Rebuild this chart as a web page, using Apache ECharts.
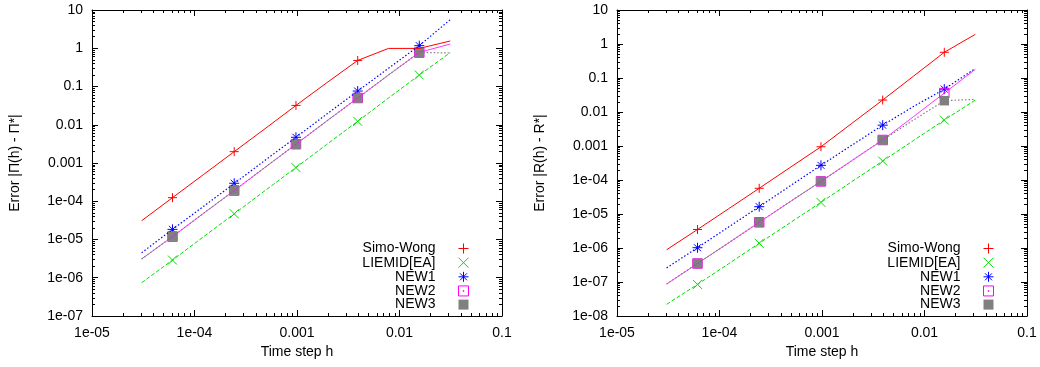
<!DOCTYPE html>
<html>
<head>
<meta charset="utf-8">
<script src="https://cdn.jsdelivr.net/npm/echarts@6/dist/echarts.min.js"></script>
<style>
html,body{margin:0;padding:0;background:#fff;}
#chart{width:1040px;height:367px;}
</style>
</head>
<body>
<div id="chart"></div>
<script>
// ---- data ----
const names = ['Simo-Wong', 'LIEMID[EA]', 'NEW1', 'NEW2', 'NEW3'];
// step sizes used for the curves and for the marked points
const hLine = [3.05e-5, 6.1e-5, 1.22e-4, 2.44e-4, 4.88e-4, 9.77e-4, 1.95e-3, 3.91e-3, 7.81e-3, 1.56e-2, 3.13e-2];
const hPts = [6.1e-5, 2.44e-4, 9.77e-4, 3.91e-3, 1.56e-2];

// left panel: |Pi(h) - Pi*|
const piLine = {
  'Simo-Wong': [3.1e-5, 1.24e-4, 4.95e-4, 1.98e-3, 7.9e-3, 0.032, 0.125, 0.48, 0.99, 0.99, 1.55],
  'LIEMID[EA]': [7.4e-7, 2.9e-6, 1.17e-5, 4.7e-5, 1.9e-4, 7.6e-4, 3.05e-3, 0.0123, 0.05, 0.2, 0.77],
  'NEW1': [4.5e-6, 1.84e-5, 7.3e-5, 2.9e-4, 1.18e-3, 4.7e-3, 1.9e-2, 7.6e-2, 0.3, 1.17, 5.6],
  'NEW2': [3.1e-6, 1.19e-5, 4.8e-5, 1.9e-4, 7.7e-4, 3.1e-3, 1.25e-2, 0.05, 0.2, 0.78, 1.29],
  'NEW3': [3.1e-6, 1.19e-5, 4.8e-5, 1.9e-4, 7.7e-4, 3.1e-3, 1.25e-2, 0.05, 0.2, 0.78, 0.75]
};
const piPts = {
  'Simo-Wong': [1.24e-4, 1.98e-3, 0.032, 0.48, 1.0],
  'LIEMID[EA]': [2.9e-6, 4.7e-5, 7.6e-4, 0.0123, 0.2],
  'NEW1': [1.84e-5, 2.95e-4, 4.7e-3, 0.076, 1.17],
  'NEW2': [1.19e-5, 1.9e-4, 3.1e-3, 0.05, 0.77],
  'NEW3': [1.22e-5, 1.95e-4, 3.1e-3, 0.05, 0.78]
};

// right panel: |R(h) - R*|
const rLine = {
  'Simo-Wong': [8.9e-7, 3.5e-6, 1.41e-5, 5.7e-5, 2.33e-4, 9.5e-4, 4.6e-3, 0.0225, 0.113, 0.57, 1.92],
  'LIEMID[EA]': [2.2e-8, 8.5e-8, 3.4e-7, 1.38e-6, 5.5e-6, 2.2e-5, 8.9e-5, 3.6e-4, 1.45e-3, 5.8e-3, 0.0225],
  'NEW1': [2.6e-7, 1.02e-6, 4.1e-6, 1.64e-5, 6.7e-5, 2.7e-4, 1.05e-3, 4.1e-3, 0.0145, 0.047, 0.19],
  'NEW2': [8.7e-8, 3.5e-7, 1.4e-6, 5.7e-6, 2.3e-5, 9.1e-5, 3.7e-4, 1.5e-3, 7.3e-3, 0.036, 0.18],
  'NEW3': [8.7e-8, 3.5e-7, 1.4e-6, 5.7e-6, 2.3e-5, 9.1e-5, 3.7e-4, 1.5e-3, 5.8e-3, 0.0215, 0.0235]
};
const rPts = {
  'Simo-Wong': [3.5e-6, 5.7e-5, 9.5e-4, 0.0225, 0.57],
  'LIEMID[EA]': [8.5e-8, 1.38e-6, 2.2e-5, 3.6e-4, 5.8e-3],
  'NEW1': [1.02e-6, 1.64e-5, 2.7e-4, 4.1e-3, 0.047],
  'NEW2': [3.5e-7, 5.7e-6, 9.1e-5, 1.5e-3, 0.036],
  'NEW3': [3.5e-7, 5.7e-6, 9.1e-5, 1.5e-3, 0.0215]
};

const xRange = [1e-5, 0.1];
const yRangeLeft = [1e-7, 10];
const yRangeRight = [1e-8, 10];
const minorSteps = [2, 3, 4, 5, 6, 7, 8, 9];
const xTitle = 'Time step h';
const yTitleLeft = 'Error |\u03A0(h) - \u03A0*|';
const yTitleRight = 'Error |R(h) - R*|';

// ---- styles ----
const FONT = 'Liberation Sans, Arial, Helvetica, sans-serif';
const styles = {
  'Simo-Wong': { color: '#ff0000', dash: 'solid', width: 1,
    symbol: 'path://M0,5L10,5M5,0L5,10', size: 9, fill: 'none' },
  'LIEMID[EA]': { color: '#00e000', dash: [4, 2], width: 1,
    symbol: 'path://M1,1L9,9M1,9L9,1', size: 9, fill: 'none' },
  'NEW1': { color: '#0000ff', dash: [1.5, 2], width: 1.2,
    symbol: 'path://M0,5L10,5M5,0L5,10M1.5,1.5L8.5,8.5M1.5,8.5L8.5,1.5', size: 10, fill: 'none' },
  'NEW2': { color: '#ff00ff', dash: 'solid', width: 0.8,
    symbol: 'path://M0,0L10,0L10,10L0,10ZM4.6,4.6L5.4,4.6L5.4,5.4L4.6,5.4Z', size: 9.5, fill: 'none' },
  'NEW3': { color: '#808080', dash: [1.5, 2], width: 1.2,
    symbol: 'path://M0,0L10,0L10,10L0,10Z', size: 9.5, fill: '#808080' }
};

function fmt(v) {
  const e = Math.round(Math.log10(v));
  if (e >= 0) return String(Math.round(Math.pow(10, e)));
  if (e >= -3) return Math.pow(10, e).toFixed(-e);
  const a = -e;
  return '1e-' + (a < 10 ? '0' + a : a);
}

const grids = [
  { left: 92, top: 10, width: 410, height: 306 },
  { left: 617, top: 10, width: 410, height: 306 }
];

const xAxes = [], yAxes = [], series = [];
const panels = [
  { yRange: yRangeLeft, yTitle: yTitleLeft, lines: piLine, pts: piPts },
  { yRange: yRangeRight, yTitle: yTitleRight, lines: rLine, pts: rPts }
];

const axisLine = { show: true, onZero: false, lineStyle: { color: '#000', width: 1 } };
const noLine = { show: false, onZero: false };
const lbl = { color: '#000', fontFamily: FONT, fontSize: 14 };
const majorTick = { show: true, inside: true, length: 6, lineStyle: { color: '#000', width: 1 } };
const minorTick = { show: true, inside: true, length: 3, lineStyle: { color: '#000', width: 1 } };

// minor ticks: value axes in log10 space shifted by log10(k), so that their
// integer ticks fall on k * 10^n of the main log axis
function minorAxes(list, gi, lo, hi, positions) {
  positions.forEach(pos => minorSteps.forEach(k => {
    const c = Math.log10(k);
    list.push({
      type: 'value', gridIndex: gi, position: pos, min: lo - c, max: hi - c,
      splitNumber: Math.round(hi - lo),
      axisLine: noLine, splitLine: { show: false }, axisLabel: { show: false },
      axisTick: minorTick, silent: true
    });
  }));
}

panels.forEach((p, gi) => {
  const xb = xAxes.length, yb = yAxes.length;
  xAxes.push({
    type: 'log', logBase: 10, gridIndex: gi, position: 'bottom', min: xRange[0], max: xRange[1], interval: 1,
    axisLine: axisLine, splitLine: { show: false }, axisTick: majorTick,
    axisLabel: Object.assign({ margin: 10, formatter: fmt, showMinLabel: true, showMaxLabel: true }, lbl),
    name: xTitle, nameLocation: 'middle', nameGap: 29,
    nameTextStyle: { color: '#000', fontFamily: FONT, fontSize: 14 }
  });
  xAxes.push({
    type: 'log', logBase: 10, gridIndex: gi, position: 'top', min: xRange[0], max: xRange[1], interval: 1,
    axisLine: axisLine, splitLine: { show: false }, axisLabel: { show: false }, axisTick: majorTick
  });
  minorAxes(xAxes, gi, Math.log10(xRange[0]), Math.log10(xRange[1]), ['bottom', 'top']);

  yAxes.push({
    type: 'log', logBase: 10, gridIndex: gi, position: 'left', min: p.yRange[0], max: p.yRange[1], interval: 1,
    axisLine: axisLine, splitLine: { show: false }, axisTick: majorTick,
    axisLabel: Object.assign({ margin: 9, formatter: fmt, showMinLabel: true, showMaxLabel: true }, lbl),
    name: p.yTitle, nameLocation: 'middle', nameGap: 70,
    nameTextStyle: { color: '#000', fontFamily: FONT, fontSize: 14 }
  });
  yAxes.push({
    type: 'log', logBase: 10, gridIndex: gi, position: 'right', min: p.yRange[0], max: p.yRange[1], interval: 1,
    axisLine: axisLine, splitLine: { show: false }, axisLabel: { show: false }, axisTick: majorTick
  });
  minorAxes(yAxes, gi, Math.log10(p.yRange[0]), Math.log10(p.yRange[1]), ['left', 'right']);

  names.forEach(n => {
    const s = styles[n];
    series.push({
      type: 'line', name: n + ' curve', xAxisIndex: xb, yAxisIndex: yb,
      data: hLine.map((h, i) => [h, p.lines[n][i]]),
      showSymbol: false, symbol: 'none', silent: true, emphasis: { disabled: true },
      lineStyle: { color: s.color, width: s.width, type: s.dash }
    });
    series.push({
      type: 'scatter', name: n, xAxisIndex: xb, yAxisIndex: yb,
      data: hPts.map((h, i) => [h, p.pts[n][i]]),
      symbol: s.symbol, symbolSize: s.size, symbolKeepAspect: true,
      silent: true, emphasis: { disabled: true },
      itemStyle: { color: s.fill, borderColor: s.color, borderWidth: s.fill === 'none' ? 1 : 0, opacity: 1 }
    });
  });
});

const legendData = names.map(n => ({
  name: n,
  icon: styles[n].symbol,
  itemStyle: { color: styles[n].fill, borderColor: styles[n].color, borderWidth: styles[n].fill === 'none' ? 1 : 0, opacity: 1 }
}));

const legendBase = {
  data: legendData, orient: 'vertical', align: 'right', top: 241,
  itemWidth: 10, itemHeight: 10, itemGap: -0.85, padding: 0, selectedMode: false,
  textStyle: { color: '#000', fontFamily: FONT, fontSize: 14, lineHeight: 14, padding: [0, 18, 0, 0] }
};

const chart = echarts.init(document.getElementById('chart'), null, { renderer: 'canvas' });
chart.setOption({
  animation: false,
  backgroundColor: '#fff',
  grid: grids,
  xAxis: xAxes,
  yAxis: yAxes,
  legend: [
    Object.assign({}, legendBase, { right: 569 }),
    Object.assign({}, legendBase, { right: 44 })
  ],
  series: series
});
</script>
</body>
</html>
